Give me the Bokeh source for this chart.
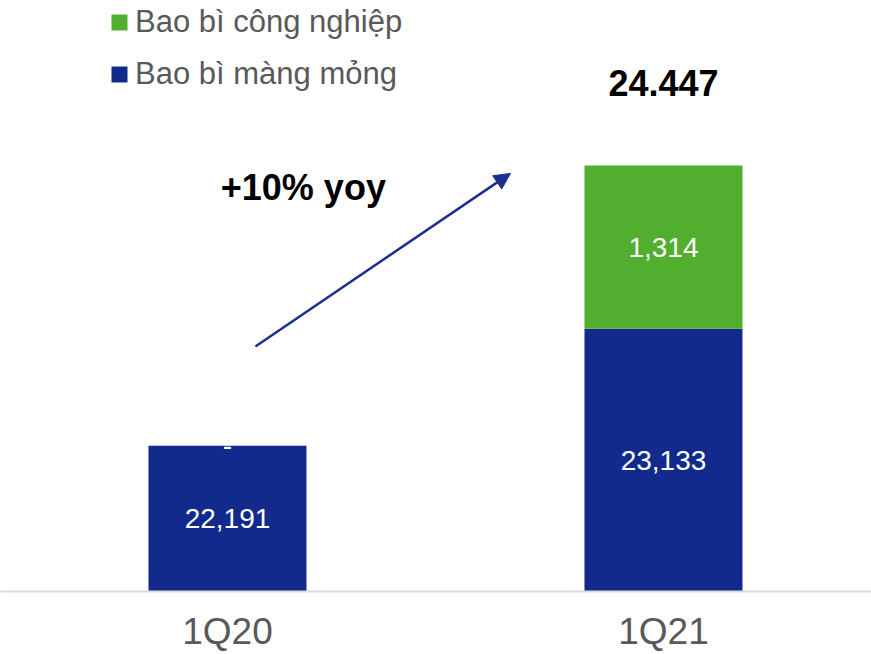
from bokeh.plotting import figure
from bokeh.models import (ColumnDataSource, Range1d, FixedTicker, Legend, LegendItem,
                          Arrow, NormalHead, Label)
from bokeh.core.properties import value
from bokeh.embed import file_html
from bokeh.resources import INLINE

# ---- data ----
categories = ["1Q20", "1Q21"]
series_names = ["Bao bì màng mỏng", "Bao bì công nghiệp"]
mang_mong = [22191, 23133]
cong_nghiep = [0, 1314]
total_labels = ["", "24.447"]
yoy_text = "+10% yoy"

BLUE = "#112A8C"
GREEN = "#52AE2E"
ARROW = "#1B2F8F"
GREY = "#595959"
FONT = "Liberation Sans"

y_start, y_end = 21017, 25775

x = list(range(len(categories)))
totals = [a + b for a, b in zip(mang_mong, cong_nghiep)]
src = ColumnDataSource(dict(
    x=x, mang=mang_mong, cong=cong_nghiep,
    mang_mid=[(y_start + m) / 2 for m in mang_mong],
    cong_mid=[m + c / 2 for m, c in zip(mang_mong, cong_nghiep)],
    mang_lbl=[f"{v:,}" for v in mang_mong],
    cong_lbl=[f"{v:,}" if v else "-" for v in cong_nghiep],
    total=totals, total_lbl=total_labels,
))

p = figure(width=871, height=654, output_backend="svg", toolbar_location=None,
           x_range=Range1d(-0.5206, 1.4771), y_range=Range1d(y_start, y_end),
           y_axis_location=None, min_border_left=0, min_border_right=0,
           min_border_top=0, min_border_bottom=63)
p.outline_line_color = None
p.xgrid.visible = False
p.ygrid.visible = False

rs = p.vbar_stack(["mang", "cong"], x="x", width=0.3624, source=src,
                  color=[BLUE, GREEN], line_color=None)

# value labels
p.text(x="x", y="mang_mid", text="mang_lbl", source=src, text_color="white",
       text_font=value(FONT), text_font_size="28px", text_align="center",
       text_baseline="middle")
p.text(x="x", y="cong_mid", text="cong_lbl", source=src, text_color="white",
       text_font=value(FONT), text_font_size="28px", text_align="center",
       text_baseline="middle")
p.text(x="x", y="total", text="total_lbl", source=src, text_color="black",
       text_font=value(FONT), text_font_size="36px", text_font_style="bold",
       text_align="center", text_baseline="middle", y_offset=-82)

# yoy annotation
p.add_layout(Label(x=0.174, y=24270, text=yoy_text, text_font=FONT,
                   text_font_size="36px", text_font_style="bold", text_color="black",
                   text_align="center", text_baseline="middle"))
p.add_layout(Arrow(end=NormalHead(size=16, fill_color=ARROW, line_color=ARROW),
                   x_start=0.064, y_start=22990, x_end=0.649, y_end=24383,
                   line_color=ARROW, line_width=2.5))

# x axis
p.xaxis.ticker = FixedTicker(ticks=x)
p.xaxis.major_label_overrides = {i: c for i, c in zip(x, categories)}
p.xaxis.major_label_text_font = FONT
p.xaxis.major_label_text_font_size = "37px"
p.xaxis.major_label_text_color = GREY
p.xaxis.major_label_standoff = 13
p.xaxis.major_tick_line_color = None
p.xaxis.minor_tick_line_color = None
p.xaxis.axis_line_color = "#D9D9D9"
p.xaxis.axis_line_width = 2

legend = Legend(items=[LegendItem(label=series_names[1], renderers=[rs[1]]),
                       LegendItem(label=series_names[0], renderers=[rs[0]])],
                location=(109, 499), orientation="vertical",
                label_text_font=FONT, label_text_font_size="31px",
                label_text_color=GREY, glyph_width=20, glyph_height=20,
                label_standoff=6, spacing=16, padding=0, margin=0,
                border_line_color=None, background_fill_alpha=0)
p.add_layout(legend, "center")

open("out.html", "w").write(file_html(p, INLINE))
